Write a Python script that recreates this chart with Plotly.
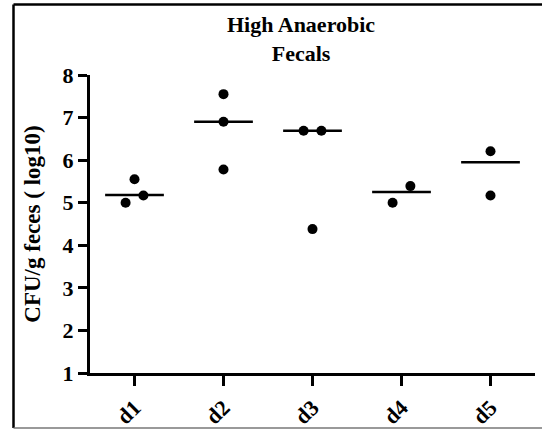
import plotly.graph_objects as go

categories = ["d1", "d2", "d3", "d4", "d5"]
d1_values = [5.55, 5.00, 5.17]
d2_values = [7.55, 6.90, 5.78]
d3_values = [6.69, 6.69, 4.38]
d4_values = [5.00, 5.39]
d5_values = [6.21, 5.17]
medians = [5.18, 6.90, 6.69, 5.25, 5.95]
y_ticks = [1, 2, 3, 4, 5, 6, 7, 8]

groups = [d1_values, d2_values, d3_values, d4_values, d5_values]
# horizontal spread of overlapping dots (dot-plot style)
spread = [[0, -0.1, 0.1], [0, 0, 0], [-0.1, 0.1, 0], [-0.1, 0.1], [0, 0]]

xs, ys = [], []
for i, (vals, sp) in enumerate(zip(groups, spread)):
    for v, s in zip(vals, sp):
        xs.append(i + s)
        ys.append(v)

mx, my = [], []
half = 0.33
for i, m in enumerate(medians):
    mx += [i - half, i + half, None]
    my += [m, m, None]

FONT = "Liberation Serif"

fig = go.Figure()
fig.add_trace(go.Scatter(x=mx, y=my, mode="lines",
                         line=dict(color="black", width=2.5),
                         hoverinfo="skip", showlegend=False))
fig.add_trace(go.Scatter(x=xs, y=ys, mode="markers",
                         marker=dict(color="black", size=10),
                         showlegend=False))

L, R, T, B = 90, 7, 75, 56
W, H = 542, 429
pw, ph = W - L - R, H - T - B

def px2paper_x(px):
    return (px - L) / pw

def px2paper_y(py):
    return (H - B - py) / ph

def bold(s):
    return "<b>%s</b>" % s

fig.update_layout(
    width=W, height=H,
    margin=dict(l=L, r=R, t=T, b=B, autoexpand=False),
    paper_bgcolor="white", plot_bgcolor="white",
    font=dict(family=FONT, color="black"),
    xaxis=dict(
        range=[-0.5, 4.5], automargin=False,
        tickmode="array", tickvals=list(range(len(categories))),
        ticktext=[bold(c) for c in categories],
        tickangle=-45,
        ticks="outside", ticklen=10, tickwidth=3, tickcolor="black",
        showline=True, linecolor="black", linewidth=3,
        showgrid=False, zeroline=False,
        tickfont=dict(family=FONT, size=22, color="black"),
    ),
    yaxis=dict(
        range=[1, 8], automargin=False,
        tickmode="array", tickvals=y_ticks,
        ticktext=[bold(t) for t in y_ticks],
        ticks="outside", ticklen=9, tickwidth=3, tickcolor="black",
        showline=True, linecolor="black", linewidth=3,
        showgrid=False, zeroline=False,
        tickfont=dict(family=FONT, size=22, color="black"),
        title=dict(text=bold("CFU/g feces ( log10)"), standoff=16,
                   font=dict(family=FONT, size=23, color="black")),
    ),
    annotations=[dict(
        text=bold("High Anaerobic") + "<br>" + bold("Fecals"),
        xref="paper", yref="paper",
        x=px2paper_x(301), y=px2paper_y(39), xanchor="center", yanchor="middle",
        showarrow=False,
        font=dict(family=FONT, size=22, color="black"),
    )],
    shapes=[
        dict(type="line", xref="paper", yref="paper",
             x0=px2paper_x(13.5), x1=px2paper_x(542), y0=px2paper_y(4.5), y1=px2paper_y(4.5),
             line=dict(color="black", width=2.5)),
        dict(type="line", xref="paper", yref="paper",
             x0=px2paper_x(13.5), x1=px2paper_x(13.5), y0=px2paper_y(4.5), y1=px2paper_y(428),
             line=dict(color="black", width=2.5)),
        dict(type="line", xref="paper", yref="paper",
             x0=px2paper_x(13.5), x1=px2paper_x(542), y0=px2paper_y(428), y1=px2paper_y(428),
             line=dict(color="#777777", width=1.5)),
    ],
)

fig.write_html("out.html")
